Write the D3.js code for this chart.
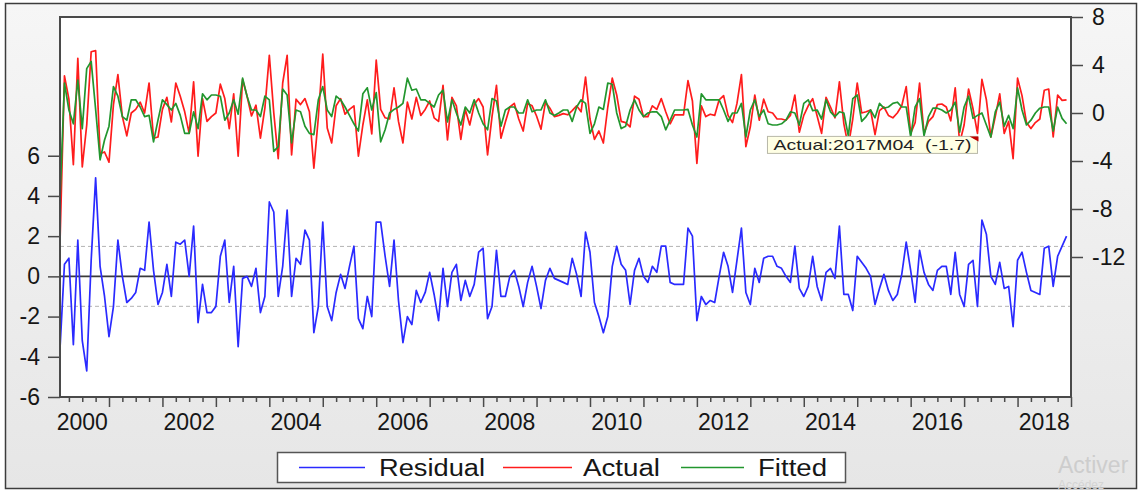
<!DOCTYPE html>
<html>
<head>
<meta charset="utf-8">
<script src="https://cdn.jsdelivr.net/npm/d3@7"></script>
<style>
  html, body { margin: 0; padding: 0; background: #ffffff; }
  svg { display: block; }
  text { font-family: "Liberation Sans", Arial, sans-serif; }
</style>
</head>
<body>
<svg id="chart" width="1141" height="492"></svg>
<script>
// Monthly sample 2000M02 .. 2018M12
const startYear = 2000, startMonth = 2;

const residual = [
  -3.6, 0.6, 0.9, -3.4, 1.8, -3.2, -4.7, 0.8, 4.9, 0.5,
  -1.0, -3.0, -1.5, 1.8, 0.0, -1.3, -1.1, -0.8, 0.4, 0.3,
  2.7, 0.3, -1.4, -0.8, 0.6, -1.0, 1.7, 1.6, 1.8, 0.0,
  2.5, -2.3, -0.4, -1.8, -1.8, -1.5, 1.0, 1.8, -1.3, 0.5,
  -3.5, -0.1, 0.0, -0.5, 0.4, -1.8, -1.0, 3.7, 3.2, -1.0,
  0.5, 3.3, -1.0, 0.9, 0.6, 2.3, 1.8, -2.8, -1.5, 2.7,
  -1.5, -2.2, -0.8, 0.1, -0.6, 0.5, 1.5, -2.1, -2.6, -1.0,
  -2.0, 2.7, 2.7, 1.0, -0.5, 1.8, -1.2, -3.3, -2.0, -2.4,
  -0.7, -1.3, -0.8, 0.2, -0.9, -2.2, 0.4, -1.5, 0.2, 0.6,
  -1.2, -0.2, -1.0, -0.4, 1.2, 1.4, -2.1, -1.5, 1.3, -1.0,
  -1.0, 0.0, 0.3, -0.5, -1.5, -0.3, 0.5, -0.5, -1.6, -0.2,
  0.4, -0.1, -0.2, -0.3, -0.4, 0.9, 0.1, -1.0, 2.2, 1.2,
  -1.3, -2.0, -2.8, -2.0, 0.5, 1.5, 0.6, 0.3, -1.4, 0.3,
  0.9, 0.0, -0.3, 0.5, 0.2, 1.5, 1.5, -0.3, -0.4, -0.4,
  -0.4, 2.4, 2.0, -2.2, -1.0, -1.4, -1.2, -1.3, 0.0, 1.2,
  0.5, -0.8, 0.8, 2.4, -0.8, -1.4, 0.4, -0.3, 0.9, 1.0,
  1.0, 0.5, 0.4, 0.0, -0.3, 1.5, -0.6, -1.0, -0.5, 1.0,
  -0.5, -1.2, 0.2, 0.4, -0.1, 2.5, -0.9, -0.9, -1.7, 1.0,
  0.7, 0.4, 0.0, -1.4, -0.6, 0.1, -0.7, -1.2, -0.9, 0.1,
  1.7, 0.3, -1.3, 1.3, 0.2, -0.4, -0.7, 0.3, 0.5, 0.5,
  -0.9, 1.2, -0.9, -1.5, 0.6, 0.8, -1.5, 2.8, 2.1, 0.0,
  -0.4, 0.7, -0.6, -0.5, -2.5, 0.8, 1.2, 0.2, -0.7, -0.8,
  -0.9, 1.4, 1.5, -0.5, 1.0, 1.5, 2.0
];

const actual = [
  -10.8, 3.1, 1.15, -4.3, 4.55, -4.5, -1.0, 5.1, 5.2, -3.4,
  -3.25, -4.1, 0.7, 3.2, -0.3, -1.9, 0.0, 0.3, 0.9, 0.0,
  2.5, -2.1, -2.0, 0.3, 1.3, -0.75, 2.5, 1.4, 0.1, -1.7,
  2.6, -3.6, 1.2, -0.7, -0.3, 0.0, 2.4, 1.2, -1.3, 1.6,
  -3.6, 2.8, 1.4, -0.25, 0.65, -2.1, 0.4, 4.8, 0.0, -3.8,
  2.5, 4.8, -3.5, 1.15, 0.7, 1.2, 0.1, -4.6, -0.4, 4.9,
  -1.25, -2.5, 0.6, 1.2, -0.1, 0.3, 0.6, -3.6, -1.0, 1.1,
  -1.75, 4.4, 0.3, -0.4, -0.5, 2.1, -0.7, -2.5, 0.9, -0.5,
  1.3, -0.2, 0.3, 1.0, -0.4, -0.7, 2.3, -2.25, 1.3, 0.6,
  -2.2, 0.3, -1.0, 0.7, 1.2, 0.5, -3.5, -0.3, 2.3, -2.1,
  -0.75, 0.5, 0.8, -0.5, -1.5, 0.8, 0.6, -0.25, -1.35, 0.9,
  0.4, -0.3, -0.2, -0.05, -0.15, 0.2, 0.6, 0.1, 3.0, -0.5,
  -2.2, -1.5, -2.5, 0.5, 2.9, 1.5, -0.7, -0.8, -1.15, 1.4,
  1.15, -0.3, -0.3, 0.6, 0.3, 1.2, 0.1, -0.9, -0.15, -0.15,
  -0.15, 2.7, 1.0, -4.2, 0.6, -0.3, -0.1, -0.2, 1.1, 1.45,
  -0.2, -0.8, 0.8, 3.2, -2.8, -1.15, 1.5, -0.6, 1.15, 0.1,
  0.0, -0.5, -0.5, -0.6, -0.2, 1.5, -1.6, -0.2, 0.6, 1.2,
  -0.25, -1.7, 1.3, 0.5, -0.4, 2.6, -0.9, -2.8, -0.5, 2.5,
  0.0, 0.1, 0.25, -1.8, 0.2, 0.5, -0.2, -0.4, 0.0, 0.6,
  2.2, -1.7, -0.8, 2.5, -1.7, -0.7, -0.3, 0.7, 0.75, 0.5,
  -0.65, 2.1, -2.5, -1.0, 2.0, 0.35, -1.7, 2.8, 1.1, -2.0,
  -0.3, 1.6, -1.7, -0.7, -3.8, 2.9, 1.45, -0.8, -1.3, -0.8,
  -0.5, 1.9, 2.0, -2.0, 1.5, 1.05, 1.1
];

const fitted = [
  -7.2, 2.5, 0.25, -0.9, 2.75, -1.3, 3.7, 4.3, 0.3, -3.9,
  -2.25, -1.1, 2.2, 1.4, -0.3, -0.6, 1.1, 1.1, 0.5, -0.3,
  -0.2, -2.4, -0.6, 1.1, 0.7, 0.25, 0.8, -0.2, -1.7, -1.7,
  0.1, -1.3, 1.6, 1.1, 1.5, 1.5, 1.4, -0.6, 0.0, 1.1,
  -0.1, 2.9, 1.4, 0.25, 0.25, -0.3, 1.4, 1.1, -3.2, -2.8,
  2.0, 1.5, -2.5, 0.25, 0.1, -1.1, -1.7, -1.8, 1.1, 2.2,
  0.25, -0.3, 1.4, 1.1, 0.5, -0.2, -0.9, -1.5, 1.6, 2.1,
  0.25, 1.7, -2.4, -1.4, 0.0, 0.3, 0.5, 0.8, 2.9, 1.9,
  2.0, 1.1, 1.1, 0.8, 0.5, 1.5, 1.9, -0.75, 1.1, 0.0,
  -1.0, 0.5, 0.0, 1.1, 0.0, -0.9, -1.4, 1.2, 1.0, -1.1,
  0.25, 0.5, 0.5, 0.0, 0.0, 1.1, 0.1, 0.25, 0.25, 1.1,
  0.0, -0.2, 0.0, 0.25, 0.25, -0.7, 0.5, 1.1, 0.8, -1.7,
  -0.9, 0.5, 0.3, 2.5, 2.4, 0.0, -1.3, -1.1, 0.25, 1.1,
  0.25, -0.3, 0.0, 0.1, 0.1, -0.3, -1.4, -0.6, 0.25, 0.25,
  0.25, 0.3, -1.0, -2.0, 1.6, 1.1, 1.1, 1.1, 1.1, 0.25,
  -0.7, 0.0, 0.0, 0.8, -2.0, 0.25, 1.1, -0.3, 0.25, -0.9,
  -1.0, -1.0, -0.9, -0.6, 0.1, 0.0, -1.0, 0.8, 1.1, 0.2,
  0.25, -0.5, 1.1, 0.1, -0.3, 0.1, 0.0, -1.9, 1.2, 1.5,
  -0.7, -0.3, 0.25, -0.4, 0.8, 0.4, 0.5, 0.8, 0.9, 0.5,
  0.5, -2.0, 0.5, 1.2, -1.9, -0.3, 0.4, 0.4, 0.25, 0.0,
  0.25, 0.9, -1.6, 0.5, 1.4, -0.45, -0.2, 0.0, -1.0, -2.0,
  0.1, 0.9, -1.1, -0.2, -1.3, 2.1, 0.25, -1.0, -0.6, 0.0,
  0.4, 0.5, 0.5, -1.5, 0.5, -0.45, -0.9
];

// Axis tick values and labels
const leftTicks = [-6, -4, -2, 0, 2, 4, 6];
const rightTicks = [-12, -8, -4, 0, 4, 8];
const yearLabels = [2000, 2002, 2004, 2006, 2008, 2010, 2012, 2014, 2016, 2018];
const residualBand = 1.49;           // +/- one standard error of the residuals
const seriesNames = ["Residual", "Actual", "Fitted"];
const seriesColors = ["#2a2aff", "#ff1c1c", "#22962e"];
const highlight = { index: 206, series: "Actual" };

const W = 1141, H = 492;
const plot = { left: 60, right: 1071, top: 17, bottom: 397 };
const axisFont = 23;

const svg = d3.select("#chart");

// Window-style background with frame
const defs = svg.append("defs");
const grad = defs.append("linearGradient").attr("id", "bg").attr("x1", 0).attr("y1", 0).attr("x2", 0).attr("y2", 1);
grad.append("stop").attr("offset", "0%").attr("stop-color", "#f6f6f6");
grad.append("stop").attr("offset", "100%").attr("stop-color", "#e6e6e6");

svg.append("rect").attr("x", 0).attr("y", 0).attr("width", W).attr("height", H).attr("fill", "#ffffff");
svg.append("rect").attr("x", 5.5).attr("y", 3.5).attr("width", 1131).attr("height", 485)
  .attr("fill", "url(#bg)").attr("stroke", "#3c3c3c").attr("stroke-width", 1.5);

// plot area
svg.append("rect").attr("x", plot.left).attr("y", plot.top)
  .attr("width", plot.right - plot.left).attr("height", plot.bottom - plot.top)
  .attr("fill", "#ffffff");

// observation dates as decimal years
const dateOf = i => startYear + (startMonth - 1 + i) / 12;
const nObs = residual.length;

const x = d3.scaleLinear()
  .domain([dateOf(0), dateOf(nObs)])
  .range([plot.left, plot.right]);
const yL = d3.scaleLinear().domain([-6, 12.9]).range([plot.bottom, plot.top]);
const yR = d3.scaleLinear().domain([-23.667, 8]).range([plot.bottom, plot.top]);

const clip = defs.append("clipPath").attr("id", "clip");
clip.append("rect").attr("x", plot.left).attr("y", plot.top)
  .attr("width", plot.right - plot.left).attr("height", plot.bottom - plot.top);

const g = svg.append("g").attr("clip-path", "url(#clip)");

// residual reference lines
g.append("line").attr("x1", plot.left).attr("x2", plot.right)
  .attr("y1", yL(0)).attr("y2", yL(0)).attr("stroke", "#3a3a3a").attr("stroke-width", 1.6);
[residualBand, -residualBand].forEach(v => {
  g.append("line").attr("x1", plot.left).attr("x2", plot.right)
    .attr("y1", yL(v)).attr("y2", yL(v))
    .attr("stroke", "#b4b4b4").attr("stroke-width", 1).attr("stroke-dasharray", "4,3");
});

const lineL = d3.line().x((d, i) => x(dateOf(i))).y(d => yL(d));
const lineR = d3.line().x((d, i) => x(dateOf(i))).y(d => yR(d));

g.append("path").datum(residual).attr("d", lineL)
  .attr("fill", "none").attr("stroke", seriesColors[0]).attr("stroke-width", 1.7).attr("stroke-linejoin", "round");
g.append("path").datum(actual).attr("d", lineR)
  .attr("fill", "none").attr("stroke", seriesColors[1]).attr("stroke-width", 1.7).attr("stroke-linejoin", "round");
g.append("path").datum(fitted).attr("d", lineR)
  .attr("fill", "none").attr("stroke", seriesColors[2]).attr("stroke-width", 1.7).attr("stroke-linejoin", "round");

// frame of plot
svg.append("rect").attr("x", plot.left).attr("y", plot.top)
  .attr("width", plot.right - plot.left).attr("height", plot.bottom - plot.top)
  .attr("fill", "none").attr("stroke", "#4a4a4a").attr("stroke-width", 2);

// Left axis
const axL = d3.axisLeft(yL).tickValues(leftTicks).tickSize(12).tickPadding(8).tickFormat(d3.format("d"));
const gL = svg.append("g").attr("transform", `translate(${plot.left},0)`).call(axL);

// Right axis
const axR = d3.axisRight(yR).tickValues(rightTicks).tickSize(12).tickPadding(9).tickFormat(d3.format("d"));
const gR = svg.append("g").attr("transform", `translate(${plot.right},0)`).call(axR);

// Bottom axis: quarterly minor ticks, yearly major ticks, labels centred in the year span
const quarterTicks = d3.range(2000, 2019.01, 0.25).filter(v => v >= dateOf(0) - 1e-9 && v <= dateOf(nObs) + 1e-9);
const yearTicks = quarterTicks.filter(v => Math.abs(v - Math.round(v)) < 1e-9);
const axBminor = d3.axisBottom(x).tickValues(quarterTicks.filter(v => !yearTicks.includes(v))).tickSize(5).tickFormat("");
const axBmajor = d3.axisBottom(x).tickValues(yearTicks).tickSize(10).tickFormat("");
svg.append("g").attr("transform", `translate(0,${plot.bottom})`).call(axBminor);
svg.append("g").attr("transform", `translate(0,${plot.bottom})`).call(axBmajor);

svg.append("g").selectAll("text").data(yearLabels).join("text")
  .attr("x", d => x(d + 0.5))
  .attr("y", 430)
  .attr("text-anchor", "middle")
  .attr("font-size", axisFont)
  .attr("fill", "#161616")
  .text(d => d);

svg.selectAll(".domain").remove();
svg.selectAll(".tick line").attr("stroke", "#4a4a4a").attr("stroke-width", 1.5);
[gL, gR].forEach(ax => ax.selectAll(".tick text")
  .attr("font-size", axisFont).attr("fill", "#161616")
  .attr("font-family", "Liberation Sans, Arial, sans-serif")
  .text(d => String(d)));

// Data tip on the highlighted observation
const hi = highlight.index;
const hx = x(dateOf(hi)), hy = yR(actual[hi]);
const dYear = Math.floor(dateOf(hi) + 1e-9);
const dMonth = Math.round((dateOf(hi) - dYear) * 12) + 1;
const tipText = `${highlight.series}:${dYear}M${String(dMonth).padStart(2, "0")}\u00a0\u00a0(${actual[hi].toFixed(1)})`;
const tip = svg.append("g");
const boxW = 210, boxH = 17;
tip.append("rect").attr("x", hx - boxW).attr("y", hy + 3).attr("width", boxW).attr("height", boxH)
  .attr("fill", "#ffffe4").attr("stroke", "#b8b8a8").attr("stroke-width", 1);
tip.append("text").attr("x", hx - boxW + 6).attr("y", hy + 3 + 13.5)
  .attr("font-size", 15).attr("fill", "#222")
  .attr("textLength", 198).attr("lengthAdjust", "spacingAndGlyphs")
  .text(tipText);
tip.append("path").attr("d", `M${hx - 8},${hy + 3} L${hx + 1},${hy + 3} L${hx + 1},${hy + 8} Z`).attr("fill", "#c00000");

// Legend
const leg = svg.append("g");
leg.append("rect").attr("x", 277.5).attr("y", 452.5).attr("width", 568).attr("height", 30)
  .attr("fill", "#ffffff").attr("stroke", "#555").attr("stroke-width", 1.5);
const legLine = [[299, 365], [503, 572], [681, 744]];
const legText = [[379, 106], [583, 77], [758, 69]];
seriesNames.forEach((name, k) => {
  leg.append("line").attr("x1", legLine[k][0]).attr("x2", legLine[k][1]).attr("y1", 467.5).attr("y2", 467.5)
    .attr("stroke", seriesColors[k]).attr("stroke-width", 1.6);
  leg.append("text").attr("x", legText[k][0]).attr("y", 475.5).attr("font-size", 23).attr("fill", "#161616")
    .attr("textLength", legText[k][1]).attr("lengthAdjust", "spacingAndGlyphs")
    .text(name);
});

// faint system watermark at the corner
svg.append("text").attr("x", 1058).attr("y", 473).attr("font-size", 23).attr("fill", "#cdcdcd").text("Activer");
svg.append("text").attr("x", 1058).attr("y", 489).attr("font-size", 12).attr("fill", "#d4d4d4").text("Accédez");
</script>
</body>
</html>
